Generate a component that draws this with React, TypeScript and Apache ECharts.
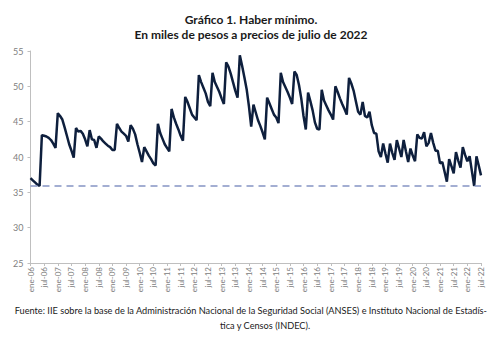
import React, { useEffect, useRef } from "react";
import * as echarts from "echarts";

const monthNames = ["ene", "feb", "mar", "abr", "may", "jun", "jul", "ago", "sep", "oct", "nov", "dic"];
const years = [2006, 2007, 2008, 2009, 2010, 2011, 2012, 2013, 2014, 2015, 2016, 2017, 2018, 2019, 2020, 2021, 2022];
const lastMonthIndex2022 = 6;

const categories: string[] = [];
years.forEach((y) => {
  monthNames.forEach((m, i) => {
    if (y === 2022 && i > lastMonthIndex2022) return;
    categories.push(`${m}-${String(y).slice(2)}`);
  });
});

const v2006 = [37.0, 36.7, 36.4, 36.1, 35.9, 43.1, 43.0, 42.9, 42.7, 42.4, 41.9, 41.3];
const v2007 = [46.2, 45.8, 45.3, 44.2, 43.0, 41.8, 40.9, 39.9, 44.1, 43.6, 43.7, 43.3];
const v2008 = [42.5, 41.5, 43.8, 42.5, 42.4, 41.3, 42.9, 42.6, 42.2, 41.9, 41.6, 41.4];
const v2009 = [41.0, 41.0, 44.7, 44.1, 43.6, 43.3, 43.0, 42.2, 44.5, 44.0, 43.2, 41.8];
const v2010 = [40.6, 39.3, 41.4, 40.8, 40.2, 39.7, 39.1, 38.8, 44.7, 43.4, 42.6, 41.8];
const v2011 = [41.3, 40.8, 46.8, 45.6, 44.7, 43.9, 43.0, 42.3, 48.5, 47.8, 46.9, 46.0];
const v2012 = [45.6, 45.2, 51.6, 50.6, 49.8, 49.0, 47.8, 47.2, 51.9, 50.6, 49.9, 49.2];
const v2013 = [48.3, 47.5, 53.4, 52.8, 51.8, 50.6, 49.4, 48.4, 54.4, 52.9, 51.3, 49.6];
const v2014 = [47.2, 44.3, 47.4, 46.3, 45.2, 44.4, 43.5, 42.5, 48.4, 47.6, 46.8, 46.0];
const v2015 = [45.6, 44.8, 51.9, 50.6, 49.9, 49.2, 48.4, 47.5, 52.1, 51.6, 50.2, 48.3];
const v2016 = [45.8, 43.9, 49.1, 47.9, 46.6, 44.9, 44.0, 43.9, 49.5, 48.0, 47.3, 46.6];
const v2017 = [46.0, 45.3, 50.0, 49.2, 48.3, 47.5, 46.8, 46.0, 51.2, 50.4, 49.4, 47.9];
const v2018 = [46.4, 46.0, 47.8, 45.8, 45.6, 46.4, 44.5, 43.4, 43.3, 40.8, 40.0, 41.9];
const v2019 = [40.5, 39.2, 41.9, 40.6, 39.6, 42.4, 41.2, 40.0, 42.4, 40.8, 39.3, 41.2];
const v2020 = [40.2, 39.4, 43.2, 42.7, 42.6, 43.5, 41.5, 42.0, 43.4, 42.0, 40.9, 40.9];
const v2021 = [39.1, 39.3, 37.9, 36.5, 39.7, 38.7, 37.7, 40.7, 39.5, 38.5, 41.4, 40.3];
const v2022 = [39.4, 40.1, 38.0, 35.9, 40.1, 38.8, 37.4];

const haberMinimo = [
  ...v2006, ...v2007, ...v2008, ...v2009, ...v2010, ...v2011, ...v2012, ...v2013, ...v2014,
  ...v2015, ...v2016, ...v2017, ...v2018, ...v2019, ...v2020, ...v2021, ...v2022,
];

const minimoReferencia = 35.9;
const yTicks = [25, 30, 35, 40, 45, 50, 55];

const titleText = "Gráfico 1. Haber mínimo.\nEn miles de pesos a precios de julio de 2022";
const sourceLine1 =
  "Fuente: IIE sobre la base de la Administración Nacional de la Seguridad Social (ANSES) e Instituto Nacional de Estadís-";
const sourceLine2 = "tica y Censos (INDEC).";

export default function App() {
  const ref = useRef<HTMLDivElement>(null);
  useEffect(() => {
    if (!ref.current) return;
    const chart = echarts.init(ref.current, null, { renderer: "svg" });
    chart.setOption({
      animation: false,
      backgroundColor: "#ffffff",
      title: {
        text: titleText,
        left: "center",
        top: 7,
        textStyle: {
          fontFamily: "Lato",
          fontWeight: "bold",
          fontSize: 12,
          lineHeight: 15,
          color: "#1a1a1a",
        },
      },
      grid: { left: 30.5, right: 21, top: 51, height: 212 },
      xAxis: {
        type: "category",
        data: categories,
        boundaryGap: false,
        axisLine: { lineStyle: { color: "#bfbfbf", width: 1 } },
        axisTick: { show: true, interval: 5, length: 3, lineStyle: { color: "#bfbfbf" } },
        axisLabel: {
          interval: 5,
          rotate: 90,
          fontSize: 8,
          fontFamily: "Lato",
          color: "#808080",
          margin: 4,
        },
      },
      yAxis: {
        type: "value",
        min: yTicks[0],
        max: yTicks[yTicks.length - 1],
        interval: 5,
        splitLine: { show: false },
        axisLine: { show: true, lineStyle: { color: "#bfbfbf", width: 1 } },
        axisTick: { show: true, length: 3, lineStyle: { color: "#bfbfbf" } },
        axisLabel: { fontSize: 9, fontFamily: "Lato", color: "#808080", margin: 7 },
      },
      series: [
        {
          type: "line",
          data: haberMinimo,
          symbol: "none",
          lineStyle: { color: "#0e1f3d", width: 2.5 },
          markLine: {
            silent: true,
            symbol: "none",
            label: { show: false },
            lineStyle: { color: "#8594c4", width: 1.5, type: [7, 5] },
            data: [{ yAxis: minimoReferencia }],
          },
        },
      ],
      graphic: [
        {
          type: "text",
          left: "center",
          top: 306,
          style: {
            text: sourceLine1,
            fontFamily: "Lato",
            fontSize: 9.2,
            fill: "#1a1a1a",
          },
        },
        {
          type: "text",
          left: 220,
          top: 321,
          style: {
            text: sourceLine2,
            fontFamily: "Lato",
            fontSize: 9.2,
            fill: "#1a1a1a",
          },
        },
      ],
    });
    return () => chart.dispose();
  }, []);
  return (
    <div
      ref={ref}
      style={{ position: "fixed", left: 0, top: 0, width: 502, height: 337 }}
    />
  );
}
